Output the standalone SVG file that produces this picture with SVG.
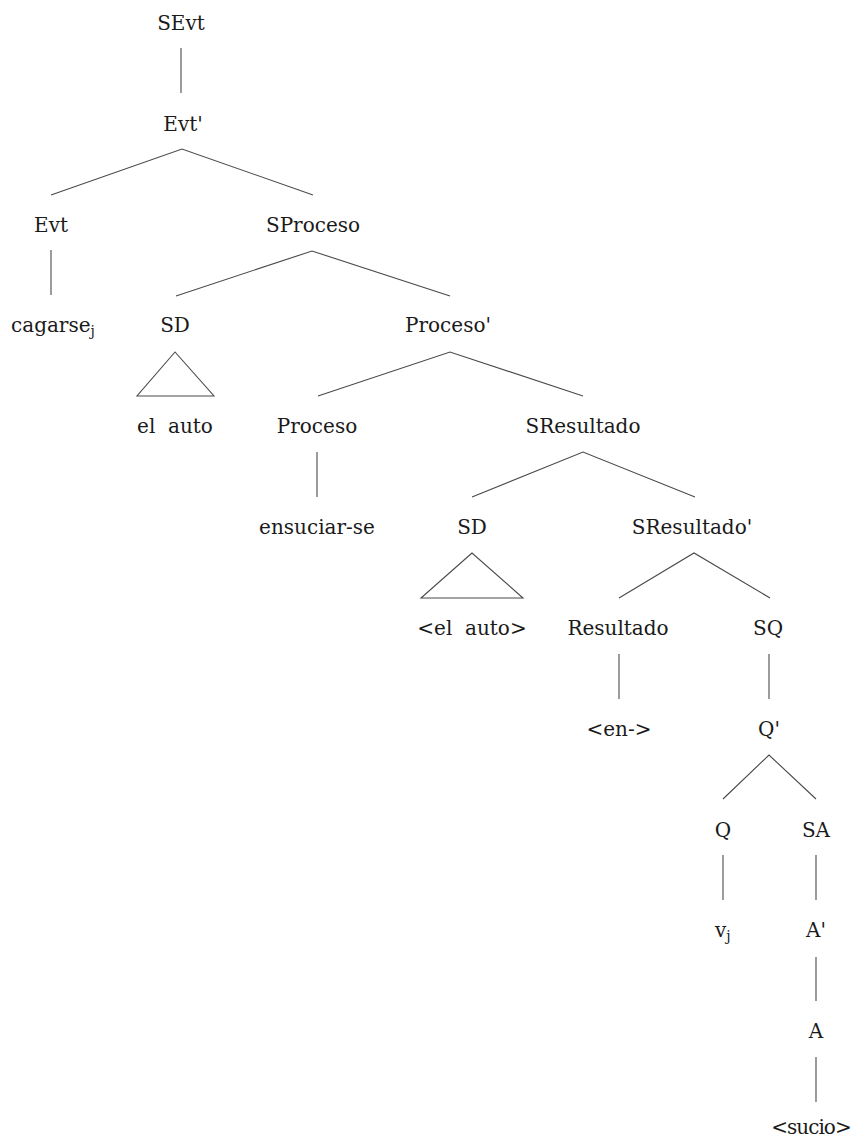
<svg xmlns="http://www.w3.org/2000/svg" width="854" height="1142" viewBox="0 0 854 1142">
  <style>
    .lbl { font-family: "DejaVu Serif", "Liberation Serif", serif; font-size: 20px; fill: #1a1a1a; text-anchor: middle; }
    .lft { text-anchor: start; }
    .pre { white-space: pre; }
    .sub { font-size: 14px; }
    .tight { letter-spacing: -1px; }
    .edge { stroke: #4a4a4a; stroke-width: 1.1; fill: none; }
  </style>
  <rect width="854" height="1142" fill="#ffffff"/>

  <!-- tree branches -->
  <g id="connectors">
    <line class="edge" x1="181" y1="48" x2="181" y2="93"/>
    <polyline class="edge" points="51,195 182,149 313,195"/>
    <line class="edge" x1="51" y1="250" x2="51" y2="295"/>
    <polyline class="edge" points="176,296 312,251 450,296"/>
    <polygon class="edge" points="175,352 137,396 214,396"/>
    <polyline class="edge" points="318,396 450,352 583,396"/>
    <line class="edge" x1="317" y1="452" x2="317" y2="497"/>
    <polyline class="edge" points="472,497 583,452 695,497"/>
    <polygon class="edge" points="472,553 421,598 523,598"/>
    <polyline class="edge" points="619,598 694,553 770,598"/>
    <line class="edge" x1="619" y1="654" x2="619" y2="699"/>
    <line class="edge" x1="769" y1="654" x2="769" y2="699"/>
    <polyline class="edge" points="723,799 769,755 816,799"/>
    <line class="edge" x1="723" y1="855" x2="723" y2="900"/>
    <line class="edge" x1="816" y1="855" x2="816" y2="900"/>
    <line class="edge" x1="816" y1="957" x2="816" y2="1001"/>
    <line class="edge" x1="816" y1="1057" x2="816" y2="1102"/>
  </g>

  <!-- node labels -->
  <g id="n-sevt"><text class="lbl" x="181" y="30">SEvt</text></g>
  <g id="n-evtbar"><text class="lbl" x="183" y="131">Evt'</text></g>
  <g id="n-evt"><text class="lbl" x="51" y="232">Evt</text></g>
  <g id="n-sproceso"><text class="lbl" x="313" y="232">SProceso</text></g>
  <g id="n-cagarse"><text class="lbl lft" x="11" y="332">cagarse<tspan class="sub" dy="4">j</tspan></text></g>
  <g id="n-sd1"><text class="lbl" x="175" y="332">SD</text></g>
  <g id="n-procesobar"><text class="lbl" x="448" y="332">Proceso'</text></g>
  <g id="n-elauto"><text class="lbl pre" x="175" y="433">el  auto</text></g>
  <g id="n-proceso"><text class="lbl" x="317" y="433">Proceso</text></g>
  <g id="n-sresultado"><text class="lbl" x="583" y="433">SResultado</text></g>
  <g id="n-ensuciar"><text class="lbl" x="317" y="534">ensuciar-se</text></g>
  <g id="n-sd2"><text class="lbl" x="472" y="534">SD</text></g>
  <g id="n-sresultadobar"><text class="lbl" x="692" y="534">SResultado'</text></g>
  <g id="n-elauto2"><text class="lbl pre" x="472" y="635">&lt;el  auto&gt;</text></g>
  <g id="n-resultado"><text class="lbl" x="618" y="635">Resultado</text></g>
  <g id="n-sq"><text class="lbl" x="768" y="635">SQ</text></g>
  <g id="n-en"><text class="lbl" x="619" y="736">&lt;en-&gt;</text></g>
  <g id="n-qbar"><text class="lbl" x="769" y="736">Q'</text></g>
  <g id="n-q"><text class="lbl" x="723" y="837">Q</text></g>
  <g id="n-sa"><text class="lbl" x="816" y="837">SA</text></g>
  <g id="n-vj"><text class="lbl lft" x="715" y="937">v<tspan class="sub" dy="4">j</tspan></text></g>
  <g id="n-abar"><text class="lbl" x="816" y="937">A'</text></g>
  <g id="n-a"><text class="lbl" x="816" y="1038">A</text></g>
  <g id="n-sucio"><text class="lbl tight" x="811" y="1134">&lt;sucio&gt;</text></g>
</svg>
